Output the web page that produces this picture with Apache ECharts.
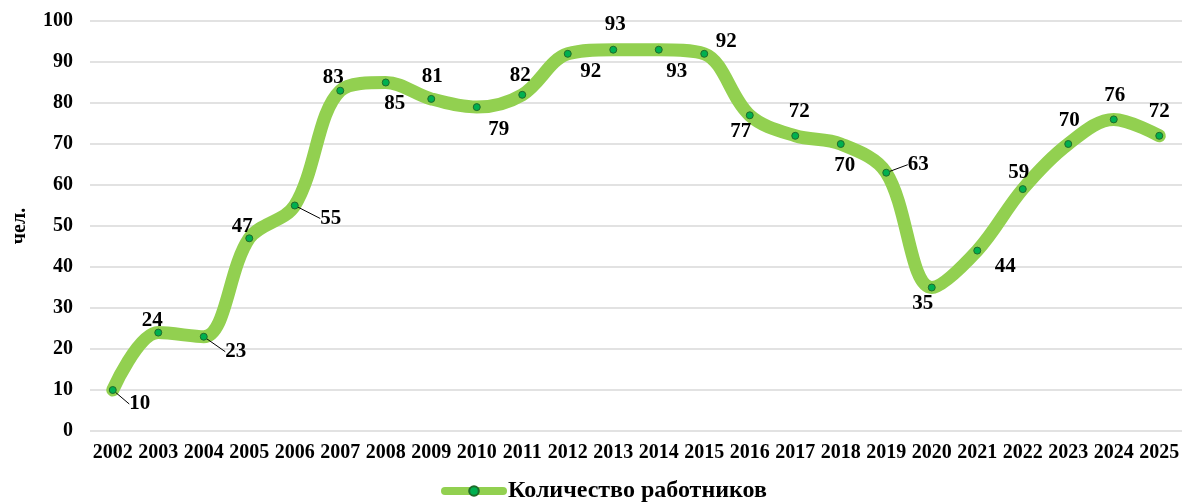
<!DOCTYPE html>
<html><head><meta charset="utf-8">
<script src="https://cdn.jsdelivr.net/npm/echarts@6/dist/echarts.min.js"></script>
<style>html,body{margin:0;padding:0;background:#fff}#c{width:1184px;height:502px}</style>
</head><body><div id="c"></div>
<script>
const years = ['2002','2003','2004','2005','2006','2007','2008','2009','2010','2011','2012','2013','2014','2015','2016','2017','2018','2019','2020','2021','2022','2023','2024','2025'];
const workers = [10,24,23,47,55,83,85,81,79,82,92,93,93,92,77,72,70,63,35,44,59,70,76,72];
const seriesName = 'Количество работников';
const yTicks = [0,10,20,30,40,50,60,70,80,90,100];

// label placement (pixel shifts from each point)
const labelShift = [[27,14],[-6,-12],[32,15],[-7,-12],[36,13],[-7,-13],[9,21],[1,-22],[22,22],[-2,-19],[23,18],[2,-25],[18,22],[22,-12],[-9,16],[4,-24],[4,22],[32,-8],[-9,16],[28,16],[-4,-17],[1,-23],[1,-24],[0,-24]];
const leader = [0,2,4,17];

const font = '"Liberation Serif", "Times New Roman", serif';
const chart = echarts.init(document.getElementById('c'));
chart.setOption({
  animation: false,
  grid: {left: 90, right: 2, top: 21, bottom: 71},
  legend: {
    top: 474, left: 436,
    itemWidth: 58, itemHeight: 12,
    itemGap: 4,
    lineStyle: {width: 8, color: '#92D050', cap: 'round'},
    textStyle: {fontFamily: font, fontWeight: 'bold', fontSize: 24, color: '#000'},
    data: [seriesName]
  },
  xAxis: {
    type: 'category', data: years, boundaryGap: true,
    axisLine: {show: false}, axisTick: {show: false},
    axisLabel: {fontFamily: font, fontWeight: 'bold', fontSize: 20, color: '#000', margin: 12, interval: 0}
  },
  yAxis: {
    type: 'value', min: yTicks[0], max: yTicks[yTicks.length-1], interval: 10,
    name: 'чел.', nameLocation: 'middle', nameGap: 60, nameRotate: 90,
    nameTextStyle: {fontFamily: font, fontWeight: 'bold', fontSize: 20, color: '#000'},
    axisLine: {show: false}, axisTick: {show: false},
    axisLabel: {fontFamily: font, fontWeight: 'bold', fontSize: 20, color: '#000', margin: 17},
    splitLine: {lineStyle: {color: '#d9d9d9', width: 1.5}}
  },
  series: [{
    name: seriesName, type: 'line', smooth: 0.35,
    data: workers.map((v, i) => ({value: v, labelLine: {show: leader.includes(i)}})),
    symbol: 'circle', symbolSize: 7,
    itemStyle: {color: '#00B050', borderColor: '#1f6b2a', borderWidth: 1},
    lineStyle: {color: '#92D050', width: 13, cap: 'round', join: 'round'},
    label: {
      show: true, position: 'inside', color: '#000',
      fontFamily: font, fontWeight: 'bold', fontSize: 21,
      textBorderWidth: 0, align: 'center', verticalAlign: 'middle'
    },
    labelLine: {show: false, lineStyle: {color: '#000', width: 1}},
    labelLayout: function (p) {
      const s = labelShift[p.dataIndex];
      return {dx: s[0], dy: s[1]};
    }
  }]
});
</script></body></html>
